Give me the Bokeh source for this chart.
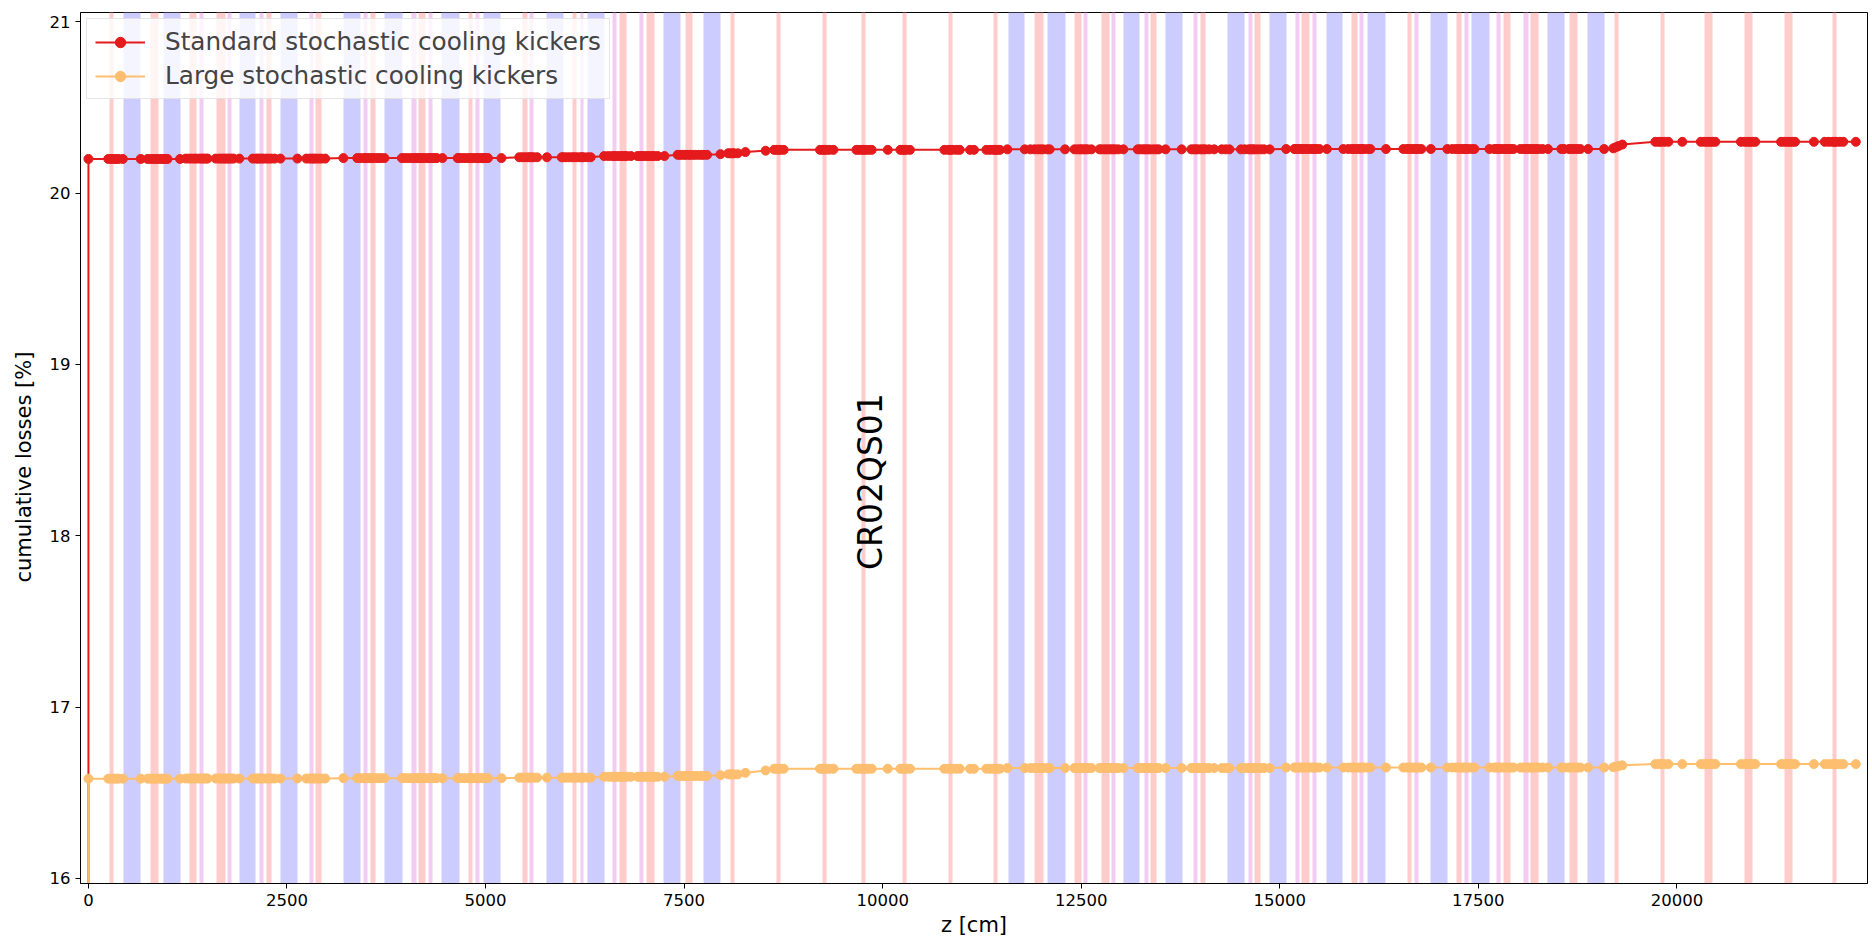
import math
from bokeh.plotting import figure
from bokeh.models import Range1d, FixedTicker, Legend, LegendItem, Label, Title
from bokeh.embed import file_html
from bokeh.resources import INLINE

# ---- lattice elements along the ring (start / end in cm) ----
dipole_start = [437, 944, 1901, 2417, 3206, 3727, 4444, 4977, 5766, 6286, 7239, 7747,
                11583, 12074, 13027, 13559, 14340, 14869, 15586, 16106, 16896, 17416,
                18369, 18876]
dipole_end = [659, 1154, 2106, 2635, 3420, 3949, 4667, 5183, 5976, 6496, 7449, 7957,
              11788, 12296, 13237, 13769, 14558, 15083, 15796, 16325, 17110, 17639,
              18579, 19087]

quad_start = [264, 781, 1267, 1612, 2241, 2862, 3550, 4151, 4780, 5460, 6090, 6685,
              7029, 7512, 8083, 8662, 9241, 9736, 10248, 10827, 11394, 11910, 12410,
              12754, 13371, 14004, 14680, 15276, 15909, 16602, 17219, 17815, 18159,
              18642, 19213, 19792, 20346, 20854, 21353, 21957]
quad_end = [315, 881, 1364, 1725, 2304, 2933, 3613, 4243, 4839, 5531, 6148, 6777,
            7126, 7608, 8129, 8712, 9291, 9786, 10298, 10877, 11444, 12019, 12502,
            12851, 13446, 14063, 14760, 15372, 15976, 16660, 17290, 17911, 18256,
            18743, 19264, 19843, 20447, 20954, 21454, 22007]

sext_start = [1402, 1750, 2153, 2782, 3466, 4063, 4281, 4876, 5556, 6190, 6597, 6941,
              12531, 12879, 13296, 13916, 14608, 15200, 15410, 16006, 16694, 17320,
              17727, 18070]
sext_end = [1452, 1800, 2203, 2837, 3516, 4126, 4331, 4923, 5606, 6236, 6647, 6991,
            12581, 12930, 13346, 13966, 14659, 15250, 15460, 16056, 16744, 17370,
            17777, 18129]

# ---- loss locations (cm), grouped by stretches of equal cumulative loss ----
z_groups = [
    [0, 250, 285, 320, 350, 378, 433, 658, 745, 781, 815, 850, 881, 915, 944, 970,
     995, 1153],
    [1226, 1267, 1300, 1335, 1364, 1402, 1430, 1452, 1480, 1500, 1602, 1640, 1670,
     1700, 1725, 1750, 1775, 1800, 1827, 1900, 2069, 2106, 2130, 2153, 2180, 2203,
     2241, 2270, 2304, 2345, 2417, 2631, 2743, 2782, 2810, 2837, 2862, 2900, 2933,
     2980],
    [3210, 3384, 3420, 3466, 3490, 3516, 3550, 3580, 3613, 3650, 3682, 3727, 3946,
     3980, 4020, 4063, 4095, 4126, 4151, 4180, 4210, 4243, 4281, 4305, 4331, 4360,
     4385, 4457, 4649, 4667, 4700, 4740, 4780, 4810, 4839, 4876, 4900, 4923, 4960,
     4977, 5000, 5031, 5200],
    [5425, 5460, 5495, 5531, 5556, 5580, 5606, 5649, 5773, 5959, 5976, 6010, 6050,
     6090, 6120, 6148, 6190, 6215, 6236, 6286, 6324],
    [6493, 6548, 6597, 6620, 6647, 6685, 6720, 6750, 6777, 6830, 6914, 6941, 6965,
     6991, 7029, 7060, 7095, 7126, 7167, 7252],
    [7419, 7449, 7480, 7512, 7545, 7575, 7608, 7640, 7680, 7718, 7747, 7789],
    [7958],
    [8055, 8083, 8110, 8129, 8176],
    [8272],
    [8527],
    [8633, 8662, 8690, 8712, 8754, 9211, 9241, 9265, 9291, 9330, 9380, 9669, 9700,
     9736, 9760, 9786, 9820, 9862, 10064, 10223, 10248, 10275, 10298, 10344, 10777,
     10827, 10850, 10877, 10930, 10970, 11100, 11150, 11306, 11350, 11394, 11420,
     11444, 11476],
    [11570, 11789, 11860, 11910, 11950, 11985, 12019, 12074, 12103, 12296, 12414,
     12450, 12480, 12502, 12531, 12556, 12581, 12628, 12730, 12754, 12790, 12820,
     12851, 12879, 12905, 12930, 12968, 13031, 13211, 13237, 13270, 13296, 13320,
     13346, 13371, 13410, 13446, 13475, 13562, 13765, 13886, 13916, 13940, 13966,
     14004, 14035, 14063, 14110, 14174, 14271, 14320, 14366, 14511, 14558, 14608,
     14633, 14659, 14680, 14720, 14760, 14801, 14873],
    [15080, 15184, 15200, 15225, 15250, 15276, 15310, 15340, 15372, 15410, 15435,
     15460, 15499, 15593, 15800, 15863, 15909, 15940, 15976, 16006, 16030, 16056,
     16106, 16140, 16337, 16556, 16602, 16630, 16660, 16694, 16720, 16744, 16782,
     16902, 17110, 17173, 17219, 17255, 17290, 17320, 17345, 17370, 17416, 17450,
     17640, 17703, 17727, 17752, 17777, 17815, 17850, 17880, 17911, 17942, 18030,
     18070, 18100, 18129, 18159, 18190, 18225, 18256, 18307, 18377, 18545, 18579,
     18642, 18675, 18710, 18743, 18784, 18882, 19084],
    [19199],
    [19230],
    [19264],
    [19313],
    [19729, 19770, 19800, 19843, 19893, 20068, 20301, 20346, 20380, 20415, 20447,
     20484, 20806, 20854, 20890, 20920, 20954, 20987, 21312, 21353, 21390, 21420,
     21454, 21488, 21725, 21862, 21910, 21957, 21985, 22007, 22050, 22095, 22253],
]

# cumulative losses [%] on each stretch
standard_levels = [20.200, 20.202, 20.205, 20.210, 20.217, 20.224, 20.228, 20.233,
                   20.240, 20.248, 20.253, 20.256, 20.258, 20.262, 20.268, 20.275,
                   20.284, 20.300]
large_levels = [16.582, 16.583, 16.585, 16.588, 16.593, 16.598, 16.602, 16.607,
                16.616, 16.630, 16.640, 16.644, 16.647, 16.649, 16.652, 16.656,
                16.660, 16.667]

# both curves start from zero at the injection point
start_z = 0
start_loss = 0.0

z = [start_z]
y_std = [start_loss]
y_large = [start_loss]
for zs, ls, ll in zip(z_groups, standard_levels, large_levels):
    z.extend(zs)
    y_std.extend([ls] * len(zs))
    y_large.extend([ll] * len(zs))

x_ticks = [0, 2500, 5000, 7500, 10000, 12500, 15000, 17500, 20000]
y_ticks = [16, 17, 18, 19, 20, 21]

FONT = "DejaVu Sans"
RED = "#e41a1c"
ORANGE = "#fdbf6f"

p = figure(width=1872, height=944, output_backend="svg", toolbar_location=None,
           x_range=Range1d(-100, 22400), y_range=Range1d(15.97, 21.055),
           min_border_left=79, min_border_right=5, min_border_top=12,
           min_border_bottom=61)
p.background_fill_color = "white"
p.border_fill_color = "white"
p.outline_line_color = "black"
p.outline_line_width = 1
p.xgrid.visible = False
p.ygrid.visible = False

# element bands
p.vstrip(x0=dipole_start, x1=dipole_end, fill_color="#ccccff", line_color=None)
p.vstrip(x0=quad_start, x1=quad_end, fill_color="#ffcccc", line_color=None)
p.vstrip(x0=sext_start, x1=sext_end, fill_color="#f2ccf2", line_color=None)

# loss curves
r_line = p.line(z, y_std, line_color=RED, line_width=2)
r_pts = p.scatter(z, y_std, size=9, fill_color=RED, line_color=RED)
o_line = p.line(z, y_large, line_color=ORANGE, line_width=2)
o_pts = p.scatter(z, y_large, size=9, fill_color=ORANGE, line_color=ORANGE)

p.add_layout(Label(x=9845, y=17.8, text="CR02QS01", angle=math.pi / 2,
                   text_align="left", text_baseline="middle",
                   text_font=FONT, text_font_size="33px", text_color="black"))

legend = Legend(items=[
    LegendItem(label="Standard stochastic cooling kickers", renderers=[r_line, r_pts]),
    LegendItem(label="Large stochastic cooling kickers", renderers=[o_line, o_pts]),
], location="top_left")
legend.label_text_font = FONT
legend.label_text_font_size = "24.7px"
legend.glyph_width = 50
legend.glyph_height = 26
legend.spacing = 5
legend.padding = 8
legend.margin = 6
legend.label_standoff = 20
legend.border_line_color = "#cccccc"
legend.background_fill_alpha = 0.8
p.add_layout(legend)

for ax in (p.xaxis, p.yaxis):
    ax.major_label_text_font = FONT
    ax.major_label_text_font_size = "16.5px"
    ax.major_label_text_color = "black"
    ax.axis_label_text_font = FONT
    ax.axis_label_text_font_size = "21px"
    ax.axis_label_text_font_style = "normal"
    ax.axis_label_text_color = "black"
    ax.major_tick_out = 5
    ax.major_tick_in = 0
    ax.minor_tick_out = 0
    ax.minor_tick_in = 0
    ax.axis_line_color = "black"
    ax.major_tick_line_color = "black"

p.xaxis.ticker = FixedTicker(ticks=x_ticks)
p.yaxis.ticker = FixedTicker(ticks=y_ticks)
p.xaxis.axis_label = "z [cm]"
p.xaxis.major_label_standoff = 5
p.xaxis.axis_label_standoff = 4
p.yaxis.major_label_standoff = 5

# y label sits a little below the middle of the frame
p.add_layout(Title(text="cumulative losses [%]", align="left", offset=301,
                   vertical_align="middle", standoff=20,
                   text_font=FONT, text_font_size="21px",
                   text_font_style="normal", text_color="black"), "left")

open("out.html", "w").write(file_html(p, INLINE))
